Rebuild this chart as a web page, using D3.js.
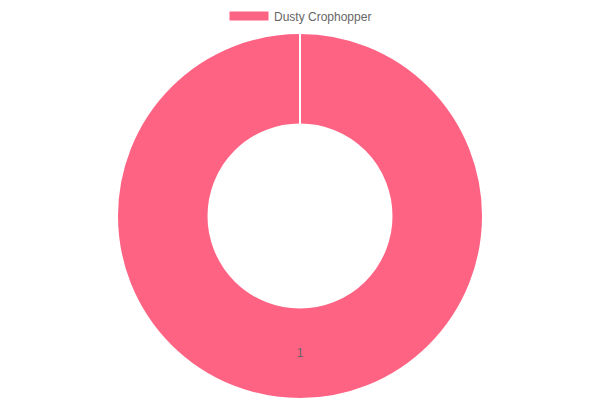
<!DOCTYPE html>
<meta charset="utf-8">
<head>
    <style>
        body {margin: 0; background: #fff;}
        text {font-family: "Liberation Sans", Arial, sans-serif; font-size: 12px; fill: #666;}
    </style>
    <script src="https://d3js.org/d3.v7.min.js"></script>
</head>
<body>
<script>

    var labels = ["Dusty Crophopper"],
        values = [1],
        colors = ["#ff6384"];

    var width = 600,
        height = 400,
        cx = 300,
        cy = 216,
        outerR = 183,
        innerR = outerR * 0.5;

    var svg = d3.select("body").append("svg")
        .attr("width", width)
        .attr("height", height)

    var pie = d3.pie().sort(null)

    var arc = d3.arc()
        .innerRadius(innerR)
        .outerRadius(outerR)

    var g = svg.append("g")
        .attr("transform", "translate(" + cx + "," + cy + ")")

    var slices = pie(values)

    g.selectAll("path")
        .data(slices)
      .enter().append("path")
        .attr("d", arc)
        .style("fill", function(d, i) {return colors[i]})
        .style("stroke", "#fff")
        .style("stroke-width", 2)
        .style("stroke-linejoin", "bevel")

    // a full-circle arc has no radial edge, so draw the slice borders by hand
    g.selectAll("line.edge")
        .data(slices)
      .enter().append("line")
        .attr("class", "edge")
        .attr("x1", function(d) {return Math.sin(d.startAngle) * innerR})
        .attr("y1", function(d) {return -Math.cos(d.startAngle) * innerR})
        .attr("x2", function(d) {return Math.sin(d.startAngle) * outerR})
        .attr("y2", function(d) {return -Math.cos(d.startAngle) * outerR})
        .style("stroke", "#fff")
        .style("stroke-width", 2)

    // value labels at the middle of each ring segment
    g.selectAll("text")
        .data(slices)
      .enter().append("text")
        .attr("transform", function(d) {return "translate(" + arc.centroid(d) + ")"})
        .attr("text-anchor", "middle")
        .attr("dy", "0.35em")
        .text(function(d) {return d.data})

    // legend
    var legend = svg.append("g")
        .attr("transform", "translate(229,11)")

    legend.append("rect")
        .attr("width", 40)
        .attr("height", 10)
        .style("fill", colors[0])
        .style("stroke", "#fff")
        .style("stroke-width", 1)

    legend.append("text")
        .attr("x", 45)
        .attr("y", 9.5)
        .text(labels[0])

</script>
</body>
